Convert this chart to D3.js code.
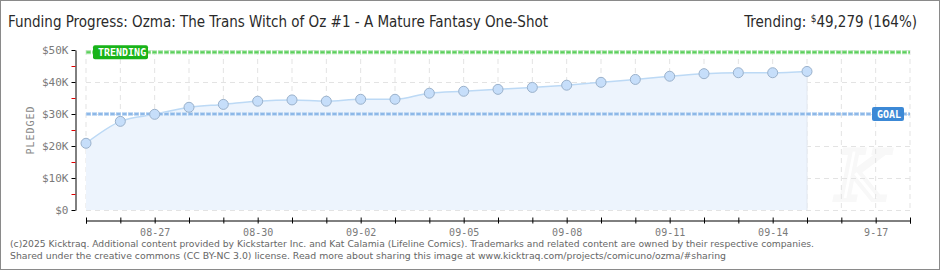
<!DOCTYPE html>
<html>
<head>
<meta charset="utf-8">
<script src="https://cdn.jsdelivr.net/npm/d3@7"></script>
<style>
  body { margin: 0; background: #fff; }
  svg { display: block; }
</style>
</head>
<body>
<div id="plot"></div>
<script>
// Data
const days = ["2025-08-25","2025-08-26","2025-08-27","2025-08-28","2025-08-29","2025-08-30","2025-08-31",
  "2025-09-01","2025-09-02","2025-09-03","2025-09-04","2025-09-05","2025-09-06","2025-09-07","2025-09-08",
  "2025-09-09","2025-09-10","2025-09-11","2025-09-12","2025-09-13","2025-09-14","2025-09-15"];
const pledged = [20850, 27700, 29900, 32100, 33000, 34000, 34400, 34000, 34600, 34600, 36500,
  37100, 37700, 38300, 39000, 39900, 40800, 41800, 42600, 42900, 42900, 43300];
const tickLabels = ["08-27","08-30","09-02","09-05","09-08","09-11","09-14","9-17"];
const tickLabelDays = ["2025-08-27","2025-08-30","2025-09-02","2025-09-05","2025-09-08","2025-09-11","2025-09-14","2025-09-17"];
const yTicks = [0, 10000, 20000, 30000, 40000, 50000];
const goal = 30000;
const trending = 49279;
const dateRange = ["2025-08-25", "2025-09-18"];

const width = 940, height = 270;
const parse = d3.utcParse("%Y-%m-%d");

var svg = d3.select("#plot")
     .append("svg")
     .attr("width", width)
     .attr("height", height);

// frame
svg.append("rect")
     .attr("x", 0.5).attr("y", 0.5)
     .attr("width", width - 1).attr("height", height - 1)
     .attr("fill", "#fff")
     .attr("stroke", "#8a8a8a");

let x = d3.scaleUtc()
     .domain(dateRange.map(parse))
     .range([86, 910]);

let y = d3.scaleLinear()
     .domain([0, 50000])
     .range([210, 50]);

const allDays = d3.utcDay.range(parse(dateRange[0]), d3.utcDay.offset(parse(dateRange[1]), 1));

// faint watermark (behind everything)
svg.append("text")
     .attr("x", 862).attr("y", 200)
     .attr("text-anchor", "middle")
     .attr("font-family", "DejaVu Serif, serif")
     .attr("font-style", "italic")
     .attr("font-size", 70)
     .attr("fill", "none")
     .attr("stroke", "#f8f8f8")
     .attr("stroke-width", 4)
     .text("K");

// grid
svg.append("g").selectAll("line")
     .data(allDays)
     .enter().append("line")
     .attr("x1", d => x(d)).attr("x2", d => x(d))
     .attr("y1", y(50000)).attr("y2", y(0))
     .attr("stroke", "#e3e3e3")
     .attr("stroke-dasharray", "5,4");

svg.append("g").selectAll("line")
     .data(yTicks)
     .enter().append("line")
     .attr("x1", 86).attr("x2", 910)
     .attr("y1", d => y(d) + 0.5).attr("y2", d => y(d) + 0.5)
     .attr("stroke", "#e3e3e3")
     .attr("stroke-dasharray", "5,4");

// area + line
const pts = days.map((d, i) => ({date: parse(d), value: pledged[i]}));

svg.append("path")
     .datum(pts)
     .attr("fill", "#edf4fd")
     .attr("d", d3.area().x(d => x(d.date)).y0(y(0)).y1(d => y(d.value)).curve(d3.curveMonotoneX));

svg.append("line")
     .attr("x1", x(pts[pts.length - 1].date)).attr("x2", x(pts[pts.length - 1].date))
     .attr("y1", y(pts[pts.length - 1].value)).attr("y2", y(0))
     .attr("stroke", "#e3e9f1");

svg.append("path")
     .datum(pts)
     .attr("fill", "none")
     .attr("stroke", "#bcd9f5")
     .attr("stroke-width", 1.5)
     .attr("d", d3.line().x(d => x(d.date)).y(d => y(d.value)).curve(d3.curveMonotoneX));

// goal & trending lines
function refLine(value, light, dark) {
     svg.append("line")
          .attr("x1", 86).attr("x2", 910)
          .attr("y1", y(value)).attr("y2", y(value))
          .attr("stroke", light)
          .attr("stroke-width", 4)
          .attr("stroke-dasharray", "5,1");
     svg.append("line")
          .attr("x1", 86.5).attr("x2", 910)
          .attr("y1", y(value)).attr("y2", y(value))
          .attr("stroke", dark)
          .attr("stroke-width", 2)
          .attr("stroke-dasharray", "4,2");
}
refLine(trending, "#b4e8b4", "#5ccf5c");
refLine(goal, "#c6dcf4", "#8db8e8");

// points
svg.append("g").selectAll("circle")
     .data(pts)
     .enter().append("circle")
     .attr("cx", d => x(d.date))
     .attr("cy", d => y(d.value))
     .attr("r", 5)
     .attr("fill", "#c6defa")
     .attr("stroke", "#9ab1cb")
     .attr("stroke-width", 1);

// labels on the ref lines
function tag(text, xLeft, value, w, color) {
     svg.append("rect")
          .attr("x", xLeft).attr("y", y(value) - 7)
          .attr("width", w).attr("height", 14)
          .attr("rx", 2)
          .attr("fill", color);
     svg.append("text")
          .attr("x", xLeft + 5).attr("y", y(value) + 4)
          .attr("fill", "#fff")
          .attr("font-family", "DejaVu Sans Mono, monospace")
          .attr("font-size", 10)
          .attr("font-weight", "bold")
          .text(text);
}
tag("TRENDING", 93, trending, 55, "#19b319");
tag("GOAL", 872, goal, 32, "#3c89d6");

// y axis
const yAxis = svg.append("g")
     .attr("transform", "translate(75.5,0)")
     .call(d3.axisLeft(y).tickValues(yTicks).tickSize(4).tickSizeOuter(0)
          .tickFormat(d => "$" + (d === 0 ? "0" : d / 1000 + "K")));
yAxis.select(".domain").attr("stroke", "#000");
yAxis.selectAll("text")
     .attr("fill", "#7a7a7a")
     .attr("font-family", "DejaVu Sans Mono, monospace")
     .attr("font-size", 11);

svg.append("g").selectAll("line")
     .data([5000, 15000, 25000, 35000, 45000])
     .enter().append("line")
     .attr("x1", 71.5).attr("x2", 75.5)
     .attr("y1", d => y(d) + 0.5).attr("y2", d => y(d) + 0.5)
     .attr("stroke", "#e00000");

svg.append("text")
     .attr("transform", "translate(34,130) rotate(-90)")
     .attr("text-anchor", "middle")
     .attr("fill", "#888")
     .attr("font-family", "DejaVu Sans Mono, monospace")
     .attr("font-size", 10)
     .attr("letter-spacing", 1)
     .text("PLEDGED");

// x axis
const labelMap = new Map(tickLabelDays.map((d, i) => [+parse(d), tickLabels[i]]));
const xAxis = svg.append("g")
     .attr("transform", "translate(0,220.5)")
     .call(d3.axisBottom(x).tickValues(allDays).tickSizeOuter(0).tickSize(3).tickPadding(5)
          .tickFormat(d => labelMap.get(+d) || ""));
xAxis.select(".domain").attr("stroke", "#000");
xAxis.selectAll(".tick line").attr("y1", -3).attr("y2", 3).attr("stroke", "#000");
xAxis.selectAll("text")
     .attr("fill", "#7a7a7a")
     .attr("font-family", "DejaVu Sans Mono, monospace")
     .attr("font-size", 10);

// title
svg.append("text")
     .attr("x", 8).attr("y", 27)
     .attr("font-family", "Liberation Sans Narrow, DejaVu Sans Condensed, sans-serif")
     .attr("font-size", 16)
     .attr("fill", "#2a2a2a")
     .attr("textLength", 540)
     .attr("lengthAdjust", "spacingAndGlyphs")
     .text("Funding Progress: Ozma: The Trans Witch of Oz #1 - A Mature Fantasy One-Shot");

const right = svg.append("text")
     .attr("x", 917).attr("y", 27)
     .attr("text-anchor", "end")
     .attr("font-family", "Liberation Sans Narrow, DejaVu Sans Condensed, sans-serif")
     .attr("font-size", 15)
     .attr("fill", "#2a2a2a");
right.append("tspan").text("Trending:  ");
right.append("tspan").attr("font-size", 10).attr("dy", -5).text("$");
right.append("tspan").attr("dy", 5).text(d3.format(",")(trending) + " (" + Math.round(trending / goal * 100) + "%)");

// footer
const footer = [
     "(c)2025 Kicktraq. Additional content provided by Kickstarter Inc. and Kat Calamia (Lifeline Comics). Trademarks and related content are owned by their respective companies.",
     "Shared under the creative commons (CC BY-NC 3.0) license. Read more about sharing this image at www.kicktraq.com/projects/comicuno/ozma/#sharing"
];
const footerWidths = [804, 716];
svg.append("g").selectAll("text")
     .data(footer)
     .enter().append("text")
     .attr("x", 10)
     .attr("y", (d, i) => 247 + i * 12)
     .attr("font-family", "DejaVu Sans, sans-serif")
     .attr("font-size", 9.5)
     .attr("fill", "#666")
     .attr("textLength", (d, i) => footerWidths[i])
     .attr("lengthAdjust", "spacingAndGlyphs")
     .text(d => d);
</script>
</body>
</html>
